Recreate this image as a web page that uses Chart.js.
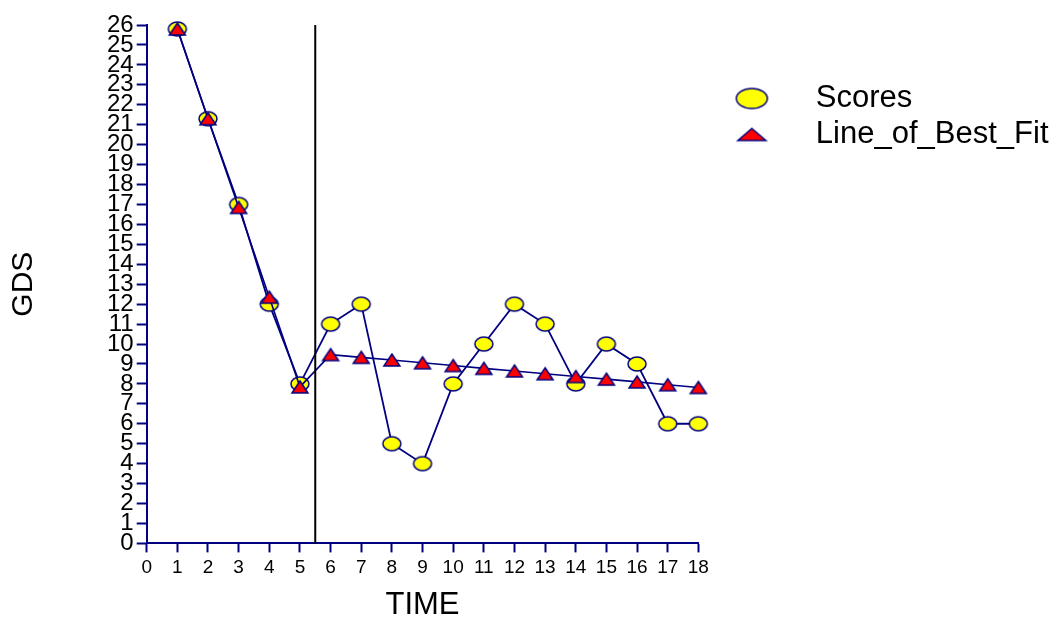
<!DOCTYPE html>
<html>
<head>
<meta charset="utf-8">
<title>GDS over TIME</title>
<script src="https://cdn.jsdelivr.net/npm/chart.js@4.4.0/dist/chart.umd.min.js"></script>
<style>
  html, body { margin: 0; padding: 0; background: #fff; }
  #wrap { width: 1060px; height: 618px; }
</style>
</head>
<body>
<div id="wrap"><canvas id="gdsChart" width="1060" height="618"></canvas></div>
<script>
// values
const timePoints = [1, 2, 3, 4, 5, 6, 7, 8, 9, 10, 11, 12, 13, 14, 15, 16, 17, 18];
const scores = [25.8, 21.3, 17, 12, 8, 11, 12, 5, 4, 8, 10, 12, 11, 8, 10, 9, 6, 6];
const bestFit = [25.8, 21.3, 16.85, 12.35, 7.85, 9.47, 9.33, 9.2, 9.06, 8.92, 8.78, 8.65, 8.51, 8.37, 8.24, 8.1, 7.96, 7.82];
const seriesNames = ['Scores', 'Line_of_Best_Fit'];
const phaseChange = 5.5;   // vertical marker between the two phases
const xRange = [0, 18];
const yRange = [0, 26];

const navy = '#000080';
const fontFamily = "'Liberation Sans', Arial, sans-serif";

// marker pictures (ellipse and triangle like the original)
function makeEllipse(w, h) {
  var c = document.createElement('canvas');
  c.width = w + 4; c.height = h + 4;
  var ctx = c.getContext('2d');
  ctx.beginPath();
  ctx.ellipse(c.width / 2, c.height / 2, w / 2, h / 2, 0, 0, Math.PI * 2);
  ctx.fillStyle = '#ffff00';
  ctx.fill();
  ctx.lineWidth = 1.5;
  ctx.strokeStyle = navy;
  ctx.stroke();
  return c;
}

function makeTriangle(w, h) {
  var c = document.createElement('canvas');
  c.width = w + 4; c.height = h + 4;
  var ctx = c.getContext('2d');
  ctx.beginPath();
  ctx.moveTo(c.width / 2, 2);
  ctx.lineTo(w + 2, h + 2);
  ctx.lineTo(2, h + 2);
  ctx.closePath();
  ctx.fillStyle = '#ff0000';
  ctx.fill();
  ctx.lineWidth = 1.5;
  ctx.strokeStyle = navy;
  ctx.stroke();
  return c;
}

const pointIcons = [makeEllipse(18, 14), makeTriangle(16, 12)];
const legendIcons = [makeEllipse(31, 20), makeTriangle(28, 12)];

// phase change line
const phaseLine = {
  id: 'phaseLine',
  afterDatasetsDraw(chart) {
    const ctx = chart.ctx;
    const area = chart.chartArea;
    const x = chart.scales.x.getPixelForValue(phaseChange);
    ctx.save();
    ctx.beginPath();
    ctx.moveTo(x, area.top);
    ctx.lineTo(x, area.bottom);
    ctx.lineWidth = 2;
    ctx.strokeStyle = '#000';
    ctx.stroke();
    ctx.restore();
  }
};

function axisGrid(len) {
  return {
    drawOnChartArea: false,
    drawTicks: true,
    tickLength: len,
    tickWidth: 2,
    tickColor: navy
  };
}

const ctx = document.getElementById('gdsChart').getContext('2d');
new Chart(ctx, {
  type: 'line',
  data: {
    datasets: [
      {
        label: seriesNames[0],
        data: timePoints.map((t, i) => ({ x: t, y: scores[i] })),
        borderColor: navy,
        borderWidth: 1.8,
        backgroundColor: '#ffff00',
        pointStyle: pointIcons[0],
        pointRadius: 6,
        tension: 0,
        clip: false,
        order: 2
      },
      {
        label: seriesNames[1],
        data: timePoints.map((t, i) => ({ x: t, y: bestFit[i] })),
        borderColor: navy,
        borderWidth: 1.6,
        backgroundColor: '#ff0000',
        pointStyle: pointIcons[1],
        pointRadius: 6,
        tension: 0,
        clip: false,
        order: 1
      }
    ]
  },
  options: {
    responsive: false,
    animation: false,
    layout: {
      padding: { top: 25, right: 1.5, bottom: 0, left: 0 }
    },
    plugins: {
      tooltip: { enabled: false },
      legend: {
        position: 'right',
        align: 'start',
        maxWidth: 420,
        title: {
          display: true,
          text: ' ',
          font: { size: 1, lineHeight: 1 },
          padding: { top: 52, bottom: 0 }
        },
        labels: {
          usePointStyle: true,
          pointStyleWidth: 97,
          padding: 5,
          color: '#000',
          font: { family: fontFamily, size: 31 },
          generateLabels: function(chart) {
            var items = Chart.defaults.plugins.legend.labels.generateLabels(chart);
            items.forEach(function(it) { it.pointStyle = legendIcons[it.datasetIndex]; });
            return items;
          },
          sort: function(a, b) { return a.datasetIndex - b.datasetIndex; }
        }
      }
    },
    scales: {
      x: {
        type: 'linear',
        min: xRange[0],
        max: xRange[1],
        ticks: {
          stepSize: 1,
          autoSkip: false,
          maxRotation: 0,
          padding: 4,
          color: '#000',
          font: { family: fontFamily, size: 19 }
        },
        grid: axisGrid(9),
        border: { color: navy, width: 2 },
        title: {
          display: true,
          text: 'TIME',
          color: '#000',
          font: { family: fontFamily, size: 31, lineHeight: 0.8 },
          padding: { top: 10, bottom: 0 }
        }
      },
      y: {
        min: yRange[0],
        max: yRange[1],
        ticks: {
          stepSize: 1,
          autoSkip: false,
          padding: 3,
          color: '#000',
          font: { family: fontFamily, size: 24 }
        },
        grid: axisGrid(10),
        border: { color: navy, width: 2 },
        title: {
          display: true,
          text: 'GDS',
          color: '#000',
          font: { family: fontFamily, size: 30, lineHeight: 1.2 },
          padding: { top: 6, bottom: 62 }
        }
      }
    }
  },
  plugins: [phaseLine]
});
</script>
</body>
</html>
